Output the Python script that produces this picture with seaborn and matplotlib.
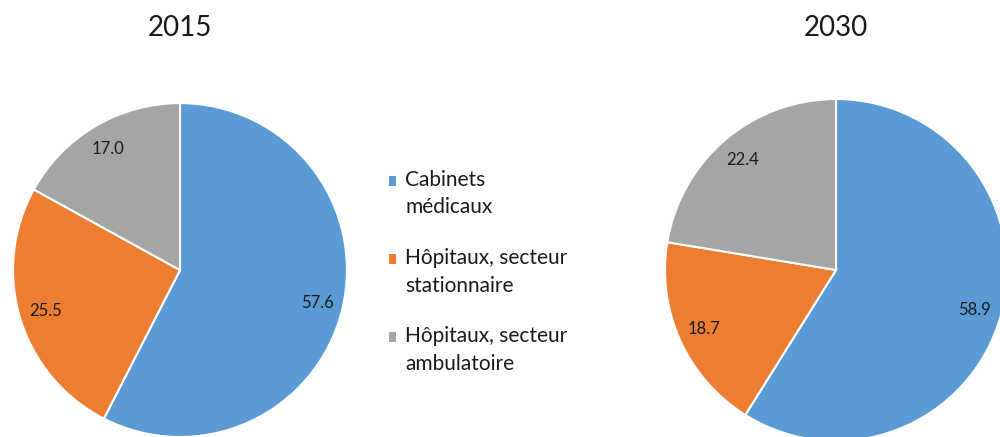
import seaborn as sns
import matplotlib.pyplot as plt
from matplotlib.patches import Rectangle, Wedge
from matplotlib.legend_handler import HandlerPatch

# data
categories = ['Cabinets\nmédicaux', 'Hôpitaux, secteur\nstationnaire', 'Hôpitaux, secteur\nambulatoire']
values_2015 = [57.6, 25.5, 17.0]
values_2030 = [58.9, 18.7, 22.4]
years = ['2015', '2030']

sns.set_style('white')
plt.rcParams['font.family'] = ['Lato', 'DejaVu Sans']
colors = sns.color_palette(['#5B9BD5', '#ED7D31', '#A5A5A5'])


class FirstLineSquare(HandlerPatch):
    # put the legend square next to the first line of a two-line label
    def create_artists(self, legend, orig_handle, xdescent, ydescent,
                       width, height, fontsize, trans):
        sq = Rectangle((-xdescent, -ydescent + 0.65 * fontsize), width, height,
                       facecolor=orig_handle.get_facecolor(), edgecolor='none',
                       transform=trans)
        return [sq]


def draw_pie(ax, values):
    total = sum(values)
    wedges, _, autotexts = ax.pie(
        values, colors=colors, startangle=90, counterclock=False,
        autopct=lambda p: f'{p * total / 100:.1f}', pctdistance=0.845,
        wedgeprops=dict(edgecolor='white', linewidth=1.5),
        textprops=dict(fontsize=12, color='#1a1a1a'))
    ax.set_xlim(-1, 1)
    ax.set_ylim(-1, 1)
    ax.set_aspect('equal')
    return wedges


fig = plt.figure(figsize=(10, 4.37), dpi=100)
ax1 = fig.add_axes([0.013, 0.0, 0.334, 0.764])
ax2 = fig.add_axes([0.665, -0.00915, 0.342, 0.7826])

wedges = draw_pie(ax1, values_2015)
draw_pie(ax2, values_2030)

fig.text(0.180, 0.937, years[0], ha='center', va='center', fontsize=20, color='#1a1a1a')
fig.text(0.836, 0.935, years[1], ha='center', va='center', fontsize=20, color='#1a1a1a')

leg = fig.legend(wedges, categories, loc='upper left', bbox_to_anchor=(0.389, 0.611),
                 frameon=False, fontsize=15, handlelength=0.34, handleheight=0.34,
                 handletextpad=0.45, labelspacing=1.48, borderpad=0, borderaxespad=0,
                 handler_map={Wedge: FirstLineSquare()})
for t in leg.get_texts():
    t.set_linespacing(1.46)
    t.set_color('#1a1a1a')

fig.savefig('out.png', dpi=100)
